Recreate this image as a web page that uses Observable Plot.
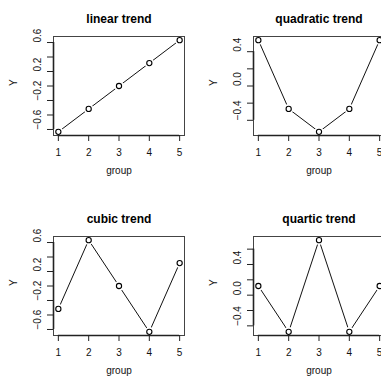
<!DOCTYPE html>
<html><head><meta charset="utf-8">
<script src="https://cdn.jsdelivr.net/npm/d3@7"></script>
<script src="https://cdn.jsdelivr.net/npm/@observablehq/plot@0.6"></script>
<style>
body{margin:0;background:#fff}
#grid{position:relative;width:381px;height:379px;overflow:hidden;background:#fff}
.panel{position:absolute;width:200px;height:200px}
.panel svg{font-family:"Liberation Sans",Arial,Helvetica,sans-serif}
</style></head><body><div id="grid"></div>
<script>
// Orthogonal polynomial contrasts for five groups
const groups = [1, 2, 3, 4, 5];
const linear = [-0.6324555, -0.3162278, 0, 0.3162278, 0.6324555];
const quadratic = [0.5345225, -0.2672612, -0.5345225, -0.2672612, 0.5345225];
const cubic = [-0.3162278, 0.6324555, 0, -0.6324555, 0.3162278];
const quartic = [0.1195229, -0.4780914, 0.7171372, -0.4780914, 0.1195229];

const titles = ["linear trend", "quadratic trend", "cubic trend", "quartic trend"];

// y tick positions and the subset that carries labels
const ticksWide = [-0.6, -0.4, -0.2, 0, 0.2, 0.4, 0.6];
const labelsWide = [-0.6, -0.2, 0.2, 0.6];
const ticksNarrow = [-0.4, -0.2, 0, 0.2, 0.4];
const labelsNarrow = [-0.4, 0, 0.4];
const ticksQuartic = [-0.4, -0.2, 0, 0.2, 0.4, 0.6];
const labelsQuartic = [-0.4, 0, 0.4];

const panels = [
  {title: titles[0], values: linear, ticks: ticksWide, labels: labelsWide, left: 0, top: 0},
  {title: titles[1], values: quadratic, ticks: ticksNarrow, labels: labelsNarrow, left: 200, top: 0},
  {title: titles[2], values: cubic, ticks: ticksWide, labels: labelsWide, left: 0, top: 200},
  {title: titles[3], values: quartic, ticks: ticksQuartic, labels: labelsQuartic, left: 200, top: 200}
];

const pad4 = ([lo, hi]) => [lo - (hi - lo) * 0.04, hi + (hi - lo) * 0.04];
const fmt = d3.format(".1f");
const xDomain = pad4(d3.extent(groups));
const grid = document.getElementById("grid");

for (const p of panels) {
  const data = groups.map((g, i) => ({group: g, Y: p.values[i]}));
  const yDomain = pad4(d3.extent(p.values));
  const chart = Plot.plot({
    width: 200,
    height: 200,
    marginLeft: 53,
    marginRight: 16,
    marginTop: 36,
    marginBottom: 65,
    style: {background: "#fff", fontSize: "10px", fontFamily: "'Liberation Sans', Arial, Helvetica, sans-serif", color: "#000"},
    x: {domain: xDomain, axis: null},
    y: {domain: yDomain, axis: null},
    marks: [
      Plot.line(data, {x: "group", y: "Y", stroke: "#111", strokeWidth: 1}),
      Plot.dot(data, {x: "group", y: "Y", r: 4.8, fill: "#fff", stroke: "none"}),
      Plot.dot(data, {x: "group", y: "Y", r: 2.6, fill: "none", stroke: "#000", strokeWidth: 1.1}),
      Plot.frame({stroke: "#444", strokeWidth: 1}),
      Plot.ruleY([yDomain[0]], {x1: d3.min(groups), x2: d3.max(groups), stroke: "#222", strokeWidth: 1.6}),
      Plot.ruleX([xDomain[0]], {y1: d3.min(p.ticks), y2: d3.max(p.ticks), stroke: "#222", strokeWidth: 1.6}),
      Plot.axisX({ticks: groups, tickFormat: d3.format("d"), tickSize: 6, tickPadding: 7, fontSize: 10, label: null, stroke: "#222", fill: "#111"}),
      Plot.axisY({ticks: p.ticks, tickSize: 6, tickFormat: () => "", label: null, stroke: "#222"}),
      Plot.text(p.labels, {y: (d) => d, text: (d) => fmt(d), frameAnchor: "left", dx: -16, rotate: -90, fontSize: 10, fill: "#111"}),
      Plot.text(["group"], {frameAnchor: "bottom", dy: 38, fontSize: 10, fill: "#111"}),
      Plot.text(["Y"], {frameAnchor: "left", dx: -40, rotate: -90, fontSize: 10, fill: "#111"}),
      Plot.text([p.title], {frameAnchor: "top", dy: -22, fontSize: 12, fontWeight: "bold", fill: "#000"})
    ]
  });
  const div = document.createElement("div");
  div.className = "panel";
  div.style.left = p.left + "px";
  div.style.top = p.top + "px";
  div.appendChild(chart);
  grid.appendChild(div);
}
</script>
</body></html>
